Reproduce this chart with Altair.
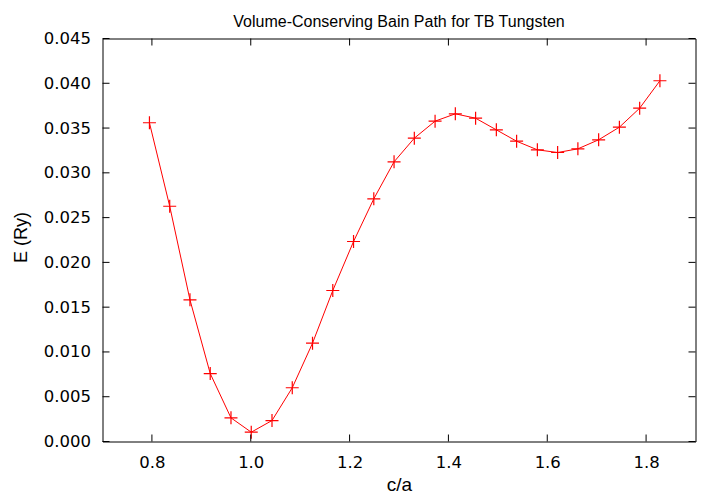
import altair as alt
import pandas as pd

# Data
ca = [0.795, 0.836, 0.877, 0.918, 0.960, 1.001, 1.043, 1.084, 1.125, 1.166,
      1.208, 1.249, 1.290, 1.331, 1.373, 1.414, 1.455, 1.497, 1.538, 1.580,
      1.621, 1.662, 1.704, 1.746, 1.787, 1.828]
energy = [0.03559, 0.02627, 0.01582, 0.00759, 0.00264, 0.00104, 0.00234, 0.00600,
          0.01098, 0.01686, 0.02233, 0.02710, 0.03123, 0.03387, 0.03577, 0.03659,
          0.03610, 0.03480, 0.03353, 0.03257, 0.03227, 0.03268, 0.03369, 0.03510,
          0.03722, 0.04028]
x_ticks = [0.8, 1.0, 1.2, 1.4, 1.6, 1.8]
y_ticks = [0.000, 0.005, 0.010, 0.015, 0.020, 0.025, 0.030, 0.035, 0.040, 0.045]
title_text = ["Volume-Conserving Bain Path for TB Tungsten"]

W, H = 593, 403
TICK = 7
LABEL_FONT = "DejaVu Sans"
TEXT_FONT = "Liberation Sans"

df = pd.DataFrame({"ca": ca, "E": energy})
dfx = pd.DataFrame({"ca": x_ticks})
dfy = pd.DataFrame({"E": y_ticks})
dft = pd.DataFrame({"t": title_text})

xscale = alt.Scale(domain=[0.7, 1.9], nice=False, zero=False)
yscale = alt.Scale(domain=[0.0, 0.045], nice=False, zero=False)

xaxis = alt.Axis(values=x_ticks, format=".1f", title="c/a", grid=False, ticks=False,
                 domain=False, labelFont=LABEL_FONT, labelFontSize=16.5,
                 labelBaseline="alphabetic", labelPadding=26, labelColor="black",
                 titleFont=TEXT_FONT, titleFontSize=19, titleFontWeight="normal",
                 titleColor="black", titleBaseline="alphabetic", titleX=W / 2, titleY=49,
                 labelFlush=False)
yaxis = alt.Axis(values=y_ticks, format=".3f", title="E (Ry)", grid=False, ticks=False,
                 domain=False, labelFont=LABEL_FONT, labelFontSize=16.5,
                 labelPadding=12, labelColor="black",
                 titleFont=TEXT_FONT, titleFontSize=18, titleFontWeight="normal",
                 titleColor="black", titleBaseline="alphabetic", titleAngle=-90,
                 titleX=-76, titleY=H / 2 - 3, labelFlush=False)

X = alt.X("ca:Q", scale=xscale, axis=xaxis)
Y = alt.Y("E:Q", scale=yscale, axis=yaxis)

base = alt.Chart(df)
line = base.mark_line(color="red", strokeWidth=1).encode(x=X, y=Y)
pts = base.mark_point(shape="M-1,0H1M0,-1V1", filled=False, color="red",
                      strokeWidth=1.2, size=169, opacity=1).encode(x=X, y=Y)

xt_bottom = alt.Chart(dfx).mark_rule(color="black", strokeWidth=1).encode(
    x=X, y=alt.value(H), y2=alt.value(H - TICK))
xt_top = alt.Chart(dfx).mark_rule(color="black", strokeWidth=1).encode(
    x=X, y=alt.value(0), y2=alt.value(TICK))
yt_left = alt.Chart(dfy).mark_rule(color="black", strokeWidth=1).encode(
    y=Y, x=alt.value(0), x2=alt.value(TICK))
yt_right = alt.Chart(dfy).mark_rule(color="black", strokeWidth=1).encode(
    y=Y, x=alt.value(W - TICK), x2=alt.value(W))

title = alt.Chart(dft).mark_text(font=TEXT_FONT, fontSize=16, color="black",
                                 align="center", baseline="alphabetic").encode(
    text="t:N", x=alt.value(W / 2), y=alt.value(-12))

chart = alt.layer(line, pts, xt_bottom, xt_top, yt_left, yt_right, title).properties(
    width=W, height=H,
    background="white",
    autosize=alt.AutoSizeParams(type="none"),
    padding={"left": 94.5, "top": 30.5, "right": 2, "bottom": 60},
).configure_view(stroke="black", strokeWidth=1)

chart.save("out.html", embed_options={"renderer": "svg", "actions": False})
